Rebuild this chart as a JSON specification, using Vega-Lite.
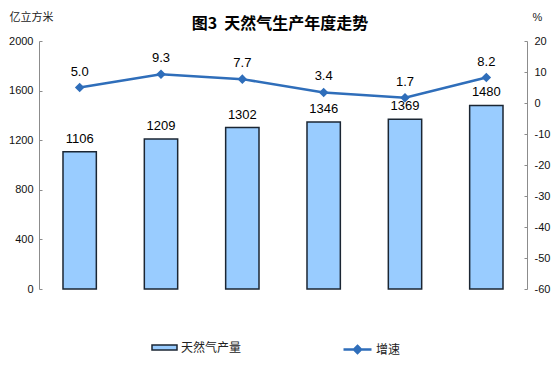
{
  "$schema": "https://vega.github.io/schema/vega-lite/v6.json",
  "width": 488,
  "height": 248,
  "autosize": {"type": "none"},
  "padding": {"left": 39, "top": 41, "right": 32, "bottom": 91},
  "background": "white",
  "title": {
    "text": "图3\u00a0\u00a0天然气生产年度走势",
    "font": "Noto Sans CJK SC",
    "fontSize": 16,
    "fontWeight": "bold",
    "color": "#000000",
    "anchor": "middle",
    "offset": 4,
    "dy": 25,
    "dx": -3
  },
  "data": {
    "values": [
      {"year": "2012年", "value": 1106, "rate": 5.0, "rlabel": "5.0"},
      {"year": "2013年", "value": 1209, "rate": 9.3, "rlabel": "9.3"},
      {"year": "2014年", "value": 1302, "rate": 7.7, "rlabel": "7.7"},
      {"year": "2015年", "value": 1346, "rate": 3.4, "rlabel": "3.4"},
      {"year": "2016年", "value": 1369, "rate": 1.7, "rlabel": "1.7"},
      {"year": "2017年", "value": 1480, "rate": 8.2, "rlabel": "8.2"}
    ]
  },
  "encoding": {
    "x": {
      "field": "year",
      "type": "nominal",
      "sort": null,
      "scale": {"paddingInner": 0.59, "paddingOuter": 0.295},
      "axis": {
        "title": null,
        "labelAngle": 0,
        "labelFont": "Noto Sans CJK SC",
        "labelFontSize": 10.5,
        "labelColor": "#222222",
        "labelPadding": 6,
        "domainColor": "#8c8c8c",
        "tickColor": "#8c8c8c",
        "tickSize": -3,
        "tickBand": "extent"
      }
    }
  },
  "layer": [
    {
      "encoding": {
        "y": {
          "field": "value",
          "type": "quantitative",
          "scale": {"domain": [0, 2000]},
          "axis": {
            "values": [0, 400, 800, 1200, 1600, 2000],
            "labelExpr": "'' + datum.value",
            "labelOverlap": false,
            "title": "亿立方米",
            "titleAngle": 0,
            "titleX": -30,
            "titleY": -24,
            "titleAlign": "left",
            "titleBaseline": "middle",
            "titleFont": "Noto Sans CJK SC",
            "titleFontSize": 11,
            "titleFontWeight": "normal",
            "titleColor": "#222222",
            "labelFont": "Liberation Sans",
            "labelFontSize": 11,
            "labelColor": "#111111",
            "labelPadding": 9,
            "grid": false,
            "domainColor": "#8c8c8c",
            "tickColor": "#8c8c8c",
            "tickSize": -3
          }
        }
      },
      "layer": [
        {
          "mark": {"type": "bar", "stroke": "#1b2633", "strokeWidth": 1.5},
          "encoding": {
            "fill": {
              "datum": "天然气产量",
              "scale": {"range": ["#99CCFF"]},
              "legend": {
                "title": null,
                "orient": "none",
                "legendX": 112,
                "legendY": 293,
                "symbolType": "M-1,-0.2H1V0.2H-1Z",
                "symbolSize": 625,
                "symbolStrokeColor": "#1b2633",
                "symbolStrokeWidth": 1.5,
                "labelFont": "Noto Sans CJK SC",
                "labelFontSize": 12,
                "labelColor": "#222222",
                "labelOffset": 3
              }
            }
          }
        },
        {
          "mark": {"type": "text", "dy": -13, "baseline": "middle", "font": "Liberation Sans", "fontSize": 13, "color": "#000000"},
          "encoding": {
            "text": {"field": "value", "type": "quantitative"}
          }
        }
      ]
    },
    {
      "encoding": {
        "x": {"field": "year", "type": "nominal", "sort": null, "axis": null},
        "y": {
          "field": "rate",
          "type": "quantitative",
          "scale": {"domain": [-60, 20]},
          "axis": {
            "orient": "right",
            "values": [-60, -50, -40, -30, -20, -10, 0, 10, 20],
            "labelExpr": "'' + datum.value",
            "labelOverlap": false,
            "title": "%",
            "titleAngle": 0,
            "titleX": 10,
            "titleY": -24,
            "titleAlign": "center",
            "titleBaseline": "middle",
            "titleFont": "Liberation Sans",
            "titleFontSize": 11,
            "titleFontWeight": "normal",
            "titleColor": "#222222",
            "labelFont": "Liberation Sans",
            "labelFontSize": 11,
            "labelColor": "#111111",
            "labelPadding": 10,
            "grid": false,
            "domainColor": "#8c8c8c",
            "tickColor": "#8c8c8c",
            "tickSize": -3
          }
        }
      },
      "layer": [
        {
          "mark": {"type": "line", "strokeWidth": 2.5, "point": {"shape": "diamond", "size": 45, "filled": true, "color": "#2F6EBA"}},
          "encoding": {
            "stroke": {
              "datum": "增速",
              "scale": {"range": ["#2F6EBA"]},
              "legend": {
                "title": null,
                "orient": "none",
                "legendX": 303,
                "legendY": 293,
                "symbolType": "M-1,0H1M0,-0.25L0.25,0L0,0.25L-0.25,0Z",
                "symbolSize": 784,
                "symbolStrokeWidth": 2.5,
                "symbolFillColor": "#2F6EBA",
                "labelFont": "Noto Sans CJK SC",
                "labelFontSize": 12,
                "labelColor": "#222222",
                "labelOffset": 3
              }
            }
          }
        },
        {
          "mark": {"type": "text", "dy": -16, "baseline": "middle", "font": "Liberation Sans", "fontSize": 13, "color": "#000000"},
          "encoding": {
            "text": {"field": "rlabel", "type": "nominal"}
          }
        }
      ]
    }
  ],
  "resolve": {"scale": {"y": "independent", "fill": "independent", "stroke": "independent"}},
  "config": {
    "view": {"stroke": null},
    "legend": {"padding": 0}
  }
}
